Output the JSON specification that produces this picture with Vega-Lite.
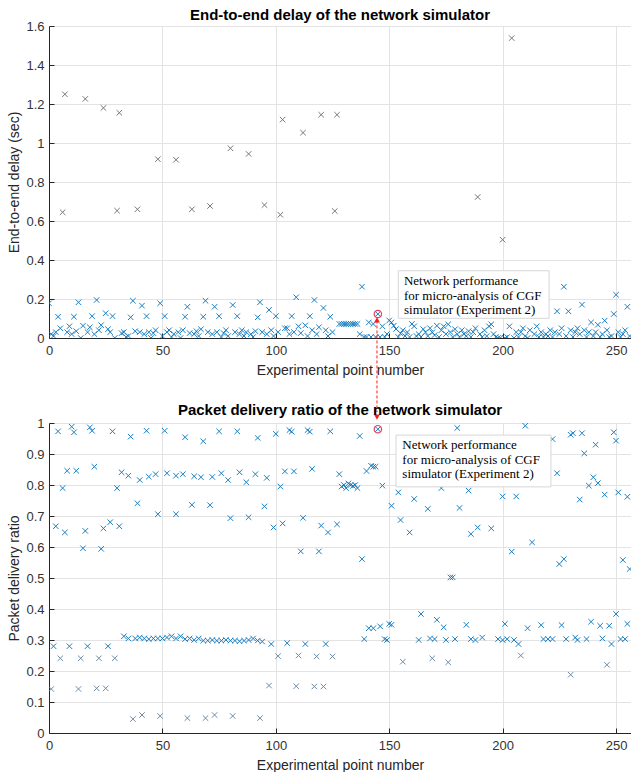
{
"$schema":"https://vega.github.io/schema/vega-lite/v6.json",
"background":"white",
"padding":{"left":7,"top":8,"right":0,"bottom":0},
"bounds":"flush",
"spacing":85,
"config":{
 "view":{"stroke":null},
 "font":"Liberation Sans",
 "axis":{"labelFont":"Liberation Sans","labelFontSize":13,"labelColor":"#333333","titleFont":"Liberation Sans","titleFontSize":14,"titleFontWeight":"normal","titleColor":"#262626","domainColor":"#262626","tickColor":"#262626","gridColor":"#e3e3e3","tickSize":-5,"format":".1~f","labelOverlap":false,"labelFlush":false},
 "axisX":{"labelPadding":11,"titlePadding":6},
 "axisY":{"labelPadding":10,"titlePadding":4},
 "title":{"font":"Liberation Sans","fontSize":15,"fontWeight":"bold","color":"#000000","anchor":"middle","offset":-3,"frame":"group"}
},
"datasets":{
"delay":[
{"n":0,"d":0.178,"s":"l"},{"n":1,"d":0.02,"s":"l"},{"n":2,"d":0.01,"s":"l"},{"n":3,"d":0.03,"s":"l"},{"n":4,"d":0.109,"s":"l"},{"n":5,"d":0.05,"s":"l"},{"n":6,"d":0.645,"s":"h"},{"n":7,"d":1.25,"s":"h"},{"n":8,"d":0.03,"s":"l"},{"n":9,"d":0.06,"s":"l"},
{"n":10,"d":0.02,"s":"l"},{"n":11,"d":0.109,"s":"l"},{"n":12,"d":0.035,"s":"l"},{"n":13,"d":0.183,"s":"l"},{"n":14,"d":0.0,"s":"l"},{"n":15,"d":0.063,"s":"l"},{"n":16,"d":1.226,"s":"h"},{"n":17,"d":0.03,"s":"l"},{"n":18,"d":0.055,"s":"l"},{"n":19,"d":0.112,"s":"l"},
{"n":20,"d":0.02,"s":"l"},{"n":21,"d":0.195,"s":"l"},{"n":22,"d":0.04,"s":"l"},{"n":23,"d":0.066,"s":"l"},{"n":24,"d":1.18,"s":"h"},{"n":25,"d":0.127,"s":"l"},{"n":26,"d":0.045,"s":"l"},{"n":27,"d":0.03,"s":"l"},{"n":28,"d":0.112,"s":"l"},{"n":29,"d":0.0,"s":"l"},
{"n":30,"d":0.653,"s":"h"},{"n":31,"d":1.155,"s":"h"},{"n":32,"d":0.025,"s":"l"},{"n":33,"d":0.03,"s":"l"},{"n":34,"d":0.005,"s":"l"},{"n":35,"d":0.01,"s":"l"},{"n":36,"d":0.106,"s":"l"},{"n":37,"d":0.191,"s":"l"},{"n":38,"d":0.035,"s":"l"},{"n":39,"d":0.66,"s":"h"},
{"n":40,"d":0.03,"s":"l"},{"n":41,"d":0.166,"s":"l"},{"n":42,"d":0.02,"s":"l"},{"n":43,"d":0.112,"s":"l"},{"n":44,"d":0.03,"s":"l"},{"n":45,"d":0.0,"s":"l"},{"n":46,"d":0.025,"s":"l"},{"n":47,"d":0.04,"s":"l"},{"n":48,"d":0.917,"s":"h"},{"n":49,"d":0.178,"s":"l"},
{"n":50,"d":0.01,"s":"l"},{"n":51,"d":0.112,"s":"l"},{"n":52,"d":0.03,"s":"l"},{"n":53,"d":0.04,"s":"l"},{"n":54,"d":0.005,"s":"l"},{"n":55,"d":0.02,"s":"l"},{"n":56,"d":0.914,"s":"h"},{"n":57,"d":0.03,"s":"l"},{"n":58,"d":0.0,"s":"l"},{"n":59,"d":0.04,"s":"l"},
{"n":60,"d":0.109,"s":"l"},{"n":61,"d":0.16,"s":"l"},{"n":62,"d":0.025,"s":"l"},{"n":63,"d":0.66,"s":"h"},{"n":64,"d":0.02,"s":"l"},{"n":65,"d":0.035,"s":"l"},{"n":66,"d":0.01,"s":"l"},{"n":67,"d":0.045,"s":"l"},{"n":68,"d":0.109,"s":"l"},{"n":69,"d":0.191,"s":"l"},
{"n":70,"d":0.03,"s":"l"},{"n":71,"d":0.677,"s":"h"},{"n":72,"d":0.02,"s":"l"},{"n":73,"d":0.16,"s":"l"},{"n":74,"d":0.03,"s":"l"},{"n":75,"d":0.112,"s":"l"},{"n":76,"d":0.005,"s":"l"},{"n":77,"d":0.025,"s":"l"},{"n":78,"d":0.04,"s":"l"},{"n":79,"d":0.01,"s":"l"},
{"n":80,"d":0.973,"s":"h"},{"n":81,"d":0.169,"s":"l"},{"n":82,"d":0.03,"s":"l"},{"n":83,"d":0.112,"s":"l"},{"n":84,"d":0.02,"s":"l"},{"n":85,"d":0.04,"s":"l"},{"n":86,"d":0.01,"s":"l"},{"n":87,"d":0.03,"s":"l"},{"n":88,"d":0.944,"s":"h"},{"n":89,"d":0.02,"s":"l"},
{"n":90,"d":0.005,"s":"l"},{"n":91,"d":0.035,"s":"l"},{"n":92,"d":0.106,"s":"l"},{"n":93,"d":0.183,"s":"l"},{"n":94,"d":0.03,"s":"l"},{"n":95,"d":0.682,"s":"h"},{"n":96,"d":0.02,"s":"l"},{"n":97,"d":0.144,"s":"l"},{"n":98,"d":0.04,"s":"l"},{"n":99,"d":0.01,"s":"l"},
{"n":100,"d":0.112,"s":"l"},{"n":101,"d":0.03,"s":"l"},{"n":102,"d":0.632,"s":"h"},{"n":103,"d":1.12,"s":"h"},{"n":104,"d":0.05,"s":"l"},{"n":105,"d":0.05,"s":"l"},{"n":106,"d":0.02,"s":"l"},{"n":107,"d":0.112,"s":"l"},{"n":108,"d":0.03,"s":"l"},{"n":109,"d":0.209,"s":"l"},
{"n":110,"d":0.06,"s":"l"},{"n":111,"d":0.025,"s":"l"},{"n":112,"d":1.053,"s":"h"},{"n":113,"d":0.065,"s":"l"},{"n":114,"d":0.01,"s":"l"},{"n":115,"d":0.112,"s":"l"},{"n":116,"d":0.04,"s":"l"},{"n":117,"d":0.195,"s":"l"},{"n":118,"d":0.02,"s":"l"},{"n":119,"d":0.055,"s":"l"},
{"n":120,"d":1.145,"s":"h"},{"n":121,"d":0.154,"s":"l"},{"n":122,"d":0.04,"s":"l"},{"n":123,"d":0.01,"s":"l"},{"n":124,"d":0.109,"s":"l"},{"n":125,"d":0.03,"s":"l"},{"n":126,"d":0.651,"s":"h"},{"n":127,"d":1.145,"s":"h"},{"n":128,"d":0.072,"s":"l"},{"n":129,"d":0.072,"s":"l"},
{"n":130,"d":0.072,"s":"l"},{"n":131,"d":0.072,"s":"l"},{"n":132,"d":0.072,"s":"l"},{"n":133,"d":0.072,"s":"l"},{"n":134,"d":0.072,"s":"l"},{"n":135,"d":0.072,"s":"l"},{"n":136,"d":0.072,"s":"l"},{"n":137,"d":0.02,"s":"l"},{"n":138,"d":0.263,"s":"l"},{"n":139,"d":0.005,"s":"l"},
{"n":140,"d":0.005,"s":"l"},{"n":141,"d":0.08,"s":"l"},{"n":142,"d":0.005,"s":"l"},{"n":143,"d":0.072,"s":"l"},{"n":144,"d":0.005,"s":"l"},{"n":145,"d":0.123,"s":"l"},{"n":146,"d":0.005,"s":"l"},{"n":147,"d":0.06,"s":"l"},{"n":148,"d":0.005,"s":"l"},{"n":149,"d":0.02,"s":"l"},
{"n":150,"d":0.09,"s":"l"},{"n":151,"d":0.08,"s":"l"},{"n":152,"d":0.063,"s":"l"},{"n":153,"d":0.046,"s":"l"},{"n":154,"d":0.005,"s":"l"},{"n":155,"d":0.024,"s":"l"},{"n":156,"d":0.04,"s":"l"},{"n":157,"d":0.01,"s":"l"},{"n":158,"d":0.03,"s":"l"},{"n":159,"d":0.005,"s":"l"},
{"n":160,"d":0.072,"s":"l"},{"n":161,"d":0.06,"s":"l"},{"n":162,"d":0.01,"s":"l"},{"n":163,"d":0.02,"s":"l"},{"n":164,"d":0.005,"s":"l"},{"n":165,"d":0.045,"s":"l"},{"n":166,"d":0.03,"s":"l"},{"n":167,"d":0.01,"s":"l"},{"n":168,"d":0.05,"s":"l"},{"n":169,"d":0.029,"s":"l"},
{"n":170,"d":0.015,"s":"l"},{"n":171,"d":0.063,"s":"l"},{"n":172,"d":0.005,"s":"l"},{"n":173,"d":0.04,"s":"l"},{"n":174,"d":0.06,"s":"l"},{"n":175,"d":0.02,"s":"l"},{"n":176,"d":0.07,"s":"l"},{"n":177,"d":0.03,"s":"l"},{"n":178,"d":0.005,"s":"l"},{"n":179,"d":0.045,"s":"l"},
{"n":180,"d":0.02,"s":"l"},{"n":181,"d":0.005,"s":"l"},{"n":182,"d":0.04,"s":"l"},{"n":183,"d":0.02,"s":"l"},{"n":184,"d":0.01,"s":"l"},{"n":185,"d":0.035,"s":"l"},{"n":186,"d":0.005,"s":"l"},{"n":187,"d":0.03,"s":"l"},{"n":188,"d":0.05,"s":"l"},{"n":189,"d":0.723,"s":"h"},
{"n":190,"d":0.02,"s":"l"},{"n":191,"d":0.005,"s":"l"},{"n":192,"d":0.04,"s":"l"},{"n":193,"d":0.01,"s":"l"},{"n":194,"d":0.06,"s":"l"},{"n":195,"d":0.07,"s":"l"},{"n":196,"d":0.02,"s":"l"},{"n":197,"d":0.005,"s":"l"},{"n":198,"d":0.0,"s":"l"},{"n":199,"d":0.0,"s":"l"},
{"n":200,"d":0.504,"s":"h"},{"n":201,"d":0.0,"s":"l"},{"n":202,"d":0.005,"s":"l"},{"n":203,"d":0.06,"s":"l"},{"n":204,"d":1.538,"s":"h"},{"n":205,"d":0.0,"s":"l"},{"n":206,"d":0.03,"s":"l"},{"n":207,"d":0.005,"s":"l"},{"n":208,"d":0.03,"s":"l"},{"n":209,"d":0.05,"s":"l"},
{"n":210,"d":0.01,"s":"l"},{"n":211,"d":0.0,"s":"l"},{"n":212,"d":0.04,"s":"l"},{"n":213,"d":0.16,"s":"l"},{"n":214,"d":0.02,"s":"l"},{"n":215,"d":0.06,"s":"l"},{"n":216,"d":0.005,"s":"l"},{"n":217,"d":0.03,"s":"l"},{"n":218,"d":0.005,"s":"l"},{"n":219,"d":0.02,"s":"l"},
{"n":220,"d":0.01,"s":"l"},{"n":221,"d":0.04,"s":"l"},{"n":222,"d":0.005,"s":"l"},{"n":223,"d":0.03,"s":"l"},{"n":224,"d":0.137,"s":"l"},{"n":225,"d":0.02,"s":"l"},{"n":226,"d":0.05,"s":"l"},{"n":227,"d":0.263,"s":"l"},{"n":228,"d":0.01,"s":"l"},{"n":229,"d":0.137,"s":"l"},
{"n":230,"d":0.04,"s":"l"},{"n":231,"d":0.005,"s":"l"},{"n":232,"d":0.03,"s":"l"},{"n":233,"d":0.05,"s":"l"},{"n":234,"d":0.02,"s":"l"},{"n":235,"d":0.171,"s":"l"},{"n":236,"d":0.04,"s":"l"},{"n":237,"d":0.005,"s":"l"},{"n":238,"d":0.03,"s":"l"},{"n":239,"d":0.08,"s":"l"},
{"n":240,"d":0.01,"s":"l"},{"n":241,"d":0.03,"s":"l"},{"n":242,"d":0.068,"s":"l"},{"n":243,"d":0.005,"s":"l"},{"n":244,"d":0.02,"s":"l"},{"n":245,"d":0.089,"s":"l"},{"n":246,"d":0.04,"s":"l"},{"n":247,"d":0.005,"s":"l"},{"n":248,"d":0.01,"s":"l"},{"n":249,"d":0.123,"s":"l"},
{"n":250,"d":0.222,"s":"l"},{"n":251,"d":0.03,"s":"l"},{"n":252,"d":0.005,"s":"l"},{"n":253,"d":0.02,"s":"l"},{"n":254,"d":0.04,"s":"l"},{"n":255,"d":0.16,"s":"l"},{"n":256,"d":0.01,"s":"l"}
],
"pdr":[
{"n":4,"r":0.973},{"n":10,"r":0.988},{"n":11,"r":0.97},{"n":18,"r":0.986},{"n":19,"r":0.975},{"n":28,"r":0.973},{"n":36,"r":0.956},{"n":43,"r":0.975},{"n":51,"r":0.975},{"n":60,"r":0.954},{"n":68,"r":0.941},{"n":75,"r":0.973},{"n":83,"r":0.973},{"n":92,"r":0.952},{"n":100,"r":0.965},{"n":106,"r":0.977},{"n":107,"r":0.972},{"n":114,"r":0.977},{"n":115,"r":0.972},{"n":124,"r":0.973},{"n":137,"r":0.958},{"n":145,"r":0.98},{"n":180,"r":0.984},{"n":210,"r":0.991},{"n":222,"r":0.948},{"n":230,"r":0.962},{"n":231,"r":0.967},{"n":235,"r":0.967},{"n":241,"r":0.93},{"n":236,"r":0.902},{"n":249,"r":0.97},{"n":250,"r":0.943},
{"n":6,"r":0.79},{"n":8,"r":0.846},{"n":12,"r":0.846},{"n":20,"r":0.859},{"n":30,"r":0.79},{"n":32,"r":0.841},{"n":35,"r":0.83},{"n":40,"r":0.816},{"n":44,"r":0.827},{"n":47,"r":0.835},{"n":52,"r":0.838},{"n":56,"r":0.83},{"n":59,"r":0.835},{"n":64,"r":0.828},{"n":67,"r":0.825},{"n":72,"r":0.826},{"n":76,"r":0.838},{"n":79,"r":0.816},{"n":84,"r":0.841},{"n":87,"r":0.809},{"n":91,"r":0.835},{"n":96,"r":0.823},{"n":102,"r":0.795},{"n":104,"r":0.844},{"n":108,"r":0.844},{"n":116,"r":0.852},{"n":128,"r":0.835},
{"n":129,"r":0.795},{"n":130,"r":0.8},{"n":131,"r":0.79},{"n":132,"r":0.805},{"n":133,"r":0.8},{"n":134,"r":0.797},{"n":135,"r":0.8},{"n":136,"r":0.79},
{"n":140,"r":0.845},{"n":142,"r":0.862},{"n":143,"r":0.859},{"n":144,"r":0.859},{"n":147,"r":0.798},{"n":151,"r":0.733},{"n":154,"r":0.776},{"n":155,"r":0.687},{"n":159,"r":0.647},{"n":161,"r":0.755},{"n":167,"r":0.723},{"n":173,"r":0.79},{"n":181,"r":0.726},{"n":185,"r":0.782},{"n":200,"r":0.763},{"n":206,"r":0.763},{"n":224,"r":0.838},{"n":234,"r":0.753},{"n":238,"r":0.798},{"n":240,"r":0.825},{"n":242,"r":0.806},{"n":245,"r":0.769},{"n":251,"r":0.776},{"n":255,"r":0.762},
{"n":3,"r":0.667},{"n":7,"r":0.647},{"n":15,"r":0.596},{"n":16,"r":0.652},{"n":23,"r":0.594},{"n":24,"r":0.66},{"n":27,"r":0.68},{"n":31,"r":0.667},{"n":39,"r":0.741},{"n":48,"r":0.706},{"n":56,"r":0.706},{"n":63,"r":0.736},{"n":71,"r":0.735},{"n":80,"r":0.693},{"n":88,"r":0.696},{"n":95,"r":0.731},{"n":99,"r":0.663},{"n":103,"r":0.676},{"n":111,"r":0.586},{"n":112,"r":0.694},{"n":119,"r":0.586},{"n":120,"r":0.669},{"n":123,"r":0.647},{"n":127,"r":0.673},{"n":138,"r":0.561},{"n":177,"r":0.502},{"n":178,"r":0.502},{"n":186,"r":0.642},{"n":189,"r":0.663},{"n":195,"r":0.66},{"n":204,"r":0.585},{"n":213,"r":0.615},{"n":225,"r":0.545},{"n":227,"r":0.561},{"n":253,"r":0.558},{"n":256,"r":0.529},
{"n":141,"r":0.338},{"n":143,"r":0.338},{"n":146,"r":0.344},{"n":150,"r":0.352},{"n":151,"r":0.349},{"n":164,"r":0.384},{"n":171,"r":0.365},{"n":174,"r":0.341},{"n":184,"r":0.349},{"n":201,"r":0.352},{"n":211,"r":0.338},{"n":217,"r":0.348},{"n":226,"r":0.348},{"n":239,"r":0.359},{"n":243,"r":0.346},{"n":247,"r":0.346},{"n":250,"r":0.384},{"n":255,"r":0.352},
{"n":33,"r":0.312},{"n":35,"r":0.305},{"n":38,"r":0.305},{"n":40,"r":0.308},{"n":42,"r":0.305},{"n":44,"r":0.303},{"n":46,"r":0.305},{"n":48,"r":0.305},{"n":50,"r":0.305},{"n":52,"r":0.308},{"n":54,"r":0.312},{"n":56,"r":0.305},{"n":58,"r":0.312},{"n":60,"r":0.303},{"n":62,"r":0.305},{"n":64,"r":0.3},{"n":66,"r":0.305},{"n":68,"r":0.298},{"n":70,"r":0.298},{"n":72,"r":0.3},{"n":74,"r":0.298},{"n":76,"r":0.298},{"n":78,"r":0.3},{"n":80,"r":0.298},{"n":82,"r":0.298},{"n":84,"r":0.296},{"n":86,"r":0.298},{"n":88,"r":0.3},{"n":90,"r":0.305},{"n":92,"r":0.298},{"n":94,"r":0.295},{"n":98,"r":0.287},{"n":105,"r":0.29},{"n":113,"r":0.287},{"n":122,"r":0.287},{"n":139,"r":0.303},{"n":148,"r":0.303},{"n":149,"r":0.3},{"n":163,"r":0.3},{"n":168,"r":0.305},{"n":170,"r":0.303},{"n":175,"r":0.3},{"n":179,"r":0.303},{"n":186,"r":0.303},{"n":188,"r":0.3},{"n":191,"r":0.308},{"n":198,"r":0.303},{"n":200,"r":0.3},{"n":202,"r":0.303},{"n":205,"r":0.3},{"n":207,"r":0.287},{"n":218,"r":0.303},{"n":220,"r":0.303},{"n":222,"r":0.303},{"n":228,"r":0.303},{"n":232,"r":0.308},{"n":233,"r":0.3},{"n":237,"r":0.303},{"n":244,"r":0.305},{"n":248,"r":0.287},{"n":252,"r":0.303},{"n":254,"r":0.303},
{"n":2,"r":0.28},{"n":9,"r":0.28},{"n":17,"r":0.28},{"n":26,"r":0.28},
{"n":5,"r":0.241},{"n":14,"r":0.241},{"n":22,"r":0.241},{"n":29,"r":0.241},{"n":101,"r":0.248},{"n":110,"r":0.25},{"n":118,"r":0.247},{"n":125,"r":0.247},{"n":156,"r":0.23},{"n":169,"r":0.241},{"n":176,"r":0.228},{"n":208,"r":0.25},{"n":246,"r":0.22},{"n":230,"r":0.188},
{"n":1,"r":0.142},{"n":13,"r":0.142},{"n":21,"r":0.144},{"n":25,"r":0.144},{"n":97,"r":0.153},{"n":109,"r":0.151},{"n":117,"r":0.15},{"n":121,"r":0.15},
{"n":37,"r":0.045},{"n":41,"r":0.058},{"n":49,"r":0.055},{"n":61,"r":0.048},{"n":69,"r":0.048},{"n":73,"r":0.058},{"n":81,"r":0.055},{"n":93,"r":0.048}
]
},
"vconcat":[
{
 "width":582,"height":312,
 "title":"End-to-end delay of the network simulator",
 "layer":[
  {"data":{"name":"delay"},
   "mark":{"type":"point","shape":"M-1,-1L1,1M-1,1L1,-1","filled":false,"size":30,"strokeWidth":1,"opacity":0.9,"clip":true},
   "encoding":{
    "x":{"field":"n","type":"quantitative","scale":{"domain":[0,256.6],"nice":false,"zero":false},"axis":{"values":[0,50,100,150,200,250],"tickCount":20,"title":"Experimental point number","grid":true,"labelOverlap":false}},
    "y":{"field":"d","type":"quantitative","scale":{"domain":[0,1.6],"nice":false},"axis":{"values":[0,0.2,0.4,0.6,0.8,1,1.2,1.4,1.6],"tickCount":20,"title":"End-to-end delay (sec)","grid":true,"labelOverlap":false}},
    "color":{"field":"s","type":"nominal","scale":{"domain":["h","l"],"range":["#6a6a6a","#0072BD"]},"legend":null}}},
  {"data":{"values":[{}]},"mark":{"type":"rect","fill":"white","stroke":"#d6d6d6","strokeWidth":1},
   "encoding":{"x":{"datum":154},"x2":{"datum":220.5},"y":{"datum":0.345},"y2":{"datum":0.101}}},
  {"data":{"values":[{}]},"mark":{"type":"text","text":["Network performance","for micro-analysis of CGF","simulator (Experiment 2)"],"font":"Liberation Serif","fontSize":13,"lineHeight":14.5,"align":"left","baseline":"middle","color":"#000000"},
   "encoding":{"x":{"datum":156.5},"y":{"datum":0.292}}},
  {"data":{"values":[{}]},"mark":{"type":"rule","color":"#ff1a1a","strokeDash":[3,2],"strokeWidth":1,"clip":false},
   "encoding":{"x":{"datum":144.6},"y":{"datum":0.09},"y2":{"datum":-0.38}}},
  {"data":{"values":[{}]},"mark":{"type":"point","shape":"triangle-up","filled":true,"size":35,"color":"#ff1a1a","opacity":1},
   "encoding":{"x":{"datum":144.6},"y":{"datum":0.093}}},
  {"data":{"values":[{}]},"mark":{"type":"point","shape":"circle","filled":false,"size":55,"color":"#e4405c","strokeWidth":1.2,"opacity":1},
   "encoding":{"x":{"datum":145},"y":{"datum":0.123}}}
 ]
},
{
 "width":582,"height":310,
 "title":"Packet delivery ratio of the network simulator",
 "layer":[
  {"data":{"name":"pdr"},
   "mark":{"type":"point","shape":"M-1,-1L1,1M-1,1L1,-1","filled":false,"size":30,"strokeWidth":1,"opacity":0.9,"clip":true},
   "encoding":{
    "x":{"field":"n","type":"quantitative","scale":{"domain":[0,256.6],"nice":false,"zero":false},"axis":{"values":[0,50,100,150,200,250],"tickCount":20,"title":"Experimental point number","grid":true,"labelOverlap":false}},
    "y":{"field":"r","type":"quantitative","scale":{"domain":[0,1],"nice":false},"axis":{"values":[0,0.1,0.2,0.3,0.4,0.5,0.6,0.7,0.8,0.9,1],"tickCount":20,"title":"Packet delivery ratio","grid":true,"labelOverlap":false}},
    "color":{"condition":{"test":"datum.r < 0.26","value":"#5f7f9e"},"value":"#0072BD"}}},
  {"data":{"values":[{}]},"mark":{"type":"rect","fill":"white","stroke":"#d6d6d6","strokeWidth":1},
   "encoding":{"x":{"datum":153},"x2":{"datum":221.3},"y":{"datum":0.961},"y2":{"datum":0.794}}},
  {"data":{"values":[{}]},"mark":{"type":"text","text":["Network performance","for micro-analysis of CGF","simulator (Experiment 2)"],"font":"Liberation Serif","fontSize":13,"lineHeight":14.5,"align":"left","baseline":"middle","color":"#000000"},
   "encoding":{"x":{"datum":155.8},"y":{"datum":0.929}}},
  {"data":{"values":[{}]},"mark":{"type":"point","shape":"triangle-down","filled":true,"size":35,"color":"#ff1a1a","opacity":1,"clip":false},
   "encoding":{"x":{"datum":144.6},"y":{"datum":1.019}}},
  {"data":{"values":[{}]},"mark":{"type":"point","shape":"circle","filled":false,"size":55,"color":"#e4405c","strokeWidth":1.2,"opacity":1},
   "encoding":{"x":{"datum":145},"y":{"datum":0.98}}}
 ]
}
]
}
